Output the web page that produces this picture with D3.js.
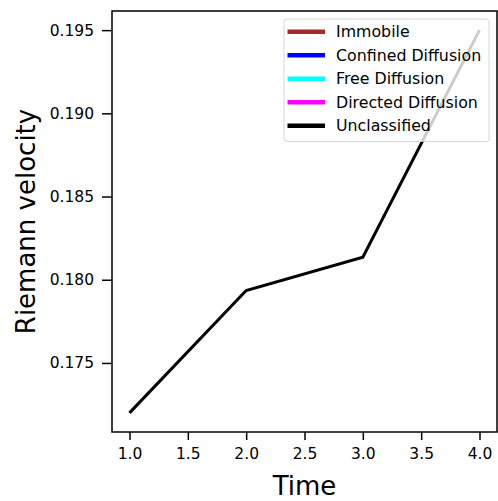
<!DOCTYPE html>
<html><head><meta charset="utf-8">
<script src="https://cdn.jsdelivr.net/npm/d3@7/dist/d3.min.js"></script>
<style>body{margin:0;background:#fff}svg{display:block;font-family:"DejaVu Sans",sans-serif}</style>
</head><body><svg id="c" width="498" height="501"></svg>
<script>
const times = [1, 2, 3, 4];
const velocity = [0.1720, 0.17935, 0.18135, 0.1950];
const xTicks = [1.0, 1.5, 2.0, 2.5, 3.0, 3.5, 4.0];
const yTicks = [0.175, 0.180, 0.185, 0.190, 0.195];
const legendLabels = ["Immobile", "Confined Diffusion", "Free Diffusion", "Directed Diffusion", "Unclassified"];
const legendColors = ["#a52a2a", "#0000ff", "#00ffff", "#ff00ff", "#000000"];

const svg = d3.select("#c");
const L = 112, R = 497, T = 11, B = 432;
const x = d3.scaleLinear().domain([0.85, 4.15]).range([L, R]);
const y = d3.scaleLinear().domain([0.17085, 0.19615]).range([B, T]);

const xa = svg.append("g").attr("transform", `translate(0,${B})`)
  .call(d3.axisBottom(x).tickValues(xTicks).tickFormat(d3.format(".1f")).tickSize(8).tickPadding(8));
const ya = svg.append("g").attr("transform", `translate(${L},0)`)
  .call(d3.axisLeft(y).tickValues(yTicks).tickFormat(d3.format(".3f")).tickSize(10).tickPadding(8));
[xa, ya].forEach(a => {
  a.select(".domain").remove();
  a.selectAll("line").attr("stroke", "#000").attr("stroke-width", 1.5);
  a.selectAll("text").attr("font-size", 15.5).attr("fill", "#000").attr("font-family", "DejaVu Sans");
});

svg.append("path").datum(times.map((t, i) => [t, velocity[i]]))
  .attr("d", d3.line().x(d => x(d[0])).y(d => y(d[1])))
  .attr("fill", "none").attr("stroke", "#000").attr("stroke-width", 3);

svg.append("rect").attr("x", L).attr("y", T).attr("width", R - L).attr("height", B - T)
  .attr("fill", "none").attr("stroke", "#000").attr("stroke-width", 1.5);

// legend
const lg = svg.append("g");
lg.append("rect").attr("x", 284).attr("y", 19).attr("width", 205).attr("height", 122.5).attr("rx", 3)
  .attr("fill", "#fff").attr("fill-opacity", 0.8).attr("stroke", "#ccc").attr("stroke-opacity", 0.8);
legendLabels.forEach((lab, i) => {
  const yy = 31.7 + i * 23.5;
  lg.append("line").attr("x1", 287.5).attr("x2", 325).attr("y1", yy).attr("y2", yy)
    .attr("stroke", legendColors[i]).attr("stroke-width", 4.5);
  lg.append("text").attr("x", 336).attr("y", yy).attr("dy", "0.36em").attr("font-size", 15.8)
    .attr("font-family", "DejaVu Sans").text(lab);
});

svg.append("text").attr("x", (L + R) / 2).attr("y", 495).attr("text-anchor", "middle")
  .attr("font-size", 26).text("Time");
svg.append("text").attr("transform", `translate(35,${(T + B) / 2}) rotate(-90)`).attr("text-anchor", "middle")
  .attr("font-size", 26).text("Riemann velocity");
</script></body></html>
